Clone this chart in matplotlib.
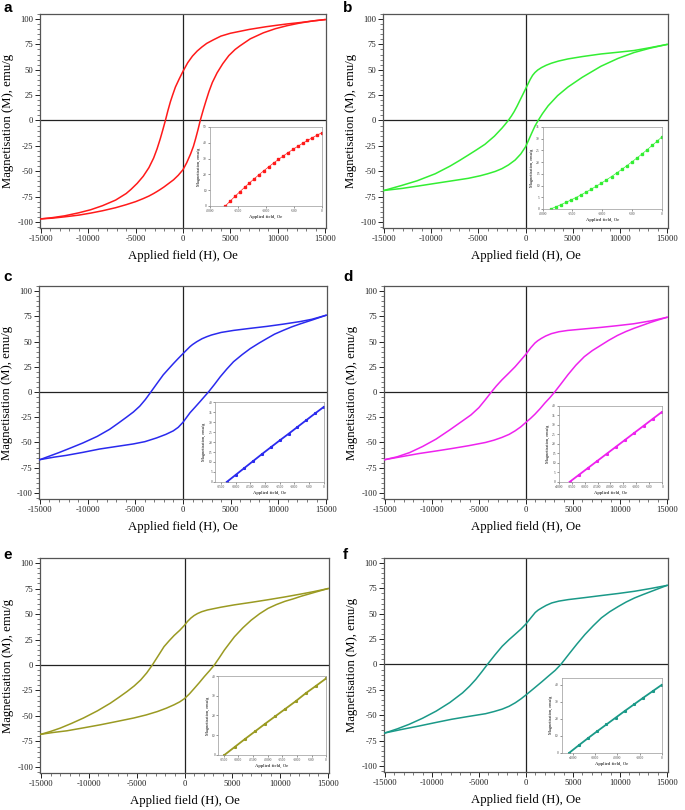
import math
import matplotlib
matplotlib.use("Agg")
import matplotlib.pyplot as plt
from matplotlib.ticker import MultipleLocator

plt.rcParams['font.family'] = ['Liberation Serif', 'DejaVu Serif']
plt.rcParams['axes.unicode_minus'] = False

# ---------------- data ----------------
# panel a
a_desc_H = [15000, 13800, 12300, 11000, 10000, 8800, 7000, 5000, 4000, 3200, 2500, 2000, 1500, 1000, 500, 0,
            -400, -800, -1100, -1330, -1600, -1860, -2140, -2400, -2740, -3100, -3600, -4200, -4840, -5500,
            -6000, -7120, -8500, -9750, -11000, -12500, -13800, -15000]
a_desc_M = [99.5, 98.2, 96.5, 95.2, 94, 92.5, 89.8, 86, 83.2, 79.5, 76, 72.5, 68.5, 63.5, 57, 48.5,
            41, 33, 25, 18.5, 9.5, 0, -9.5, -18, -28, -37, -46.5, -55, -62, -68,
            -72, -78.5, -84, -88, -91, -94, -95.8, -97]
a_asc_H = [-15000, -13800, -12500, -11000, -9750, -8500, -7120, -6000, -5000, -4200, -3600, -3100, -2740, -2400,
           -2000, -1500, -1000, -500, 0, 400, 800, 1100, 1330, 1600, 1820, 2140, 2400, 2740, 3100, 3600, 4200,
           4840, 5500, 6000, 7100, 8500, 9750, 11000, 12300, 13800, 15000]
a_asc_M = [-97, -96.3, -95, -93.3, -91.3, -89, -86, -83, -80, -77, -74.5, -72, -70, -68,
           -65.5, -62, -58.5, -54, -48.5, -41.5, -33, -25.5, -18, -8.5, 0, 10.5, 18.5, 28.5, 37.5, 47, 56,
           64, 70, 73.5, 80.5, 86.5, 90.5, 93.5, 96, 98.3, 99.5]
a_ins_H = [-1720, -1634, -1548, -1462, -1376, -1290, -1204, -1118, -1032, -946, -860, -774, -688, -602, -516, -430, -344, -258, -172, -86, 0]
a_ins_M = [0, 3.08, 6.08, 9.00, 11.84, 14.60, 17.28, 19.88, 22.40, 24.84, 27.20, 29.48, 31.68, 33.80, 35.84, 37.80, 39.68, 41.48, 43.21, 44.85, 46.41]

# panel b
b_desc_H = [15000, 13200, 11500, 9800, 8000, 6000, 4500, 3500, 2750, 2200, 1700, 1300, 1000, 750, 500, 0,
            -300, -600, -900, -1200, -1500, -1830, -2200, -2500, -3300, -4300, -5200, -6050, -7000, -8000,
            -9560, -11500, -13100, -15000]
b_desc_M = [75, 71.8, 69, 67.3, 65.6, 63, 60.7, 58.6, 56.5, 54.5, 52.2, 49.8, 47.3, 44.5, 40.5, 31,
            25.3, 19.7, 14, 8.8, 4.3, 0, -4.3, -7.6, -15.5, -23.5, -29, -34, -39.5, -45,
            -52.5, -59.5, -64, -69]
b_asc_H = [-15000, -13100, -11300, -9560, -7800, -6050, -4800, -4000, -3200, -2500, -1800, -1100, -500, 0,
           300, 630, 1000, 1340, 1800, 2400, 3400, 4500, 6000, 8000, 9800, 11500, 13200, 15000]
b_asc_M = [-69, -67, -64.5, -62, -59.5, -57, -54.5, -52.5, -50.2, -47.5, -43.8, -39, -33, -26,
           -20, -13, -5.5, 0, 6.8, 14.5, 24.5, 33, 42.5, 53.5, 61.2, 67, 71.3, 75]
b_ins_H = [-1866, -1781, -1696, -1611, -1526, -1441, -1356, -1271, -1186, -1101, -1016, -931, -846, -761, -676, -591, -506, -421, -336, -251, -166, -81, 0]
b_ins_M = [0, 0.88, 1.81, 2.79, 3.81, 4.89, 6.02, 7.20, 8.43, 9.71, 11.04, 12.42, 13.85, 15.33, 16.86, 18.44, 20.07, 21.75, 23.48, 25.27, 27.10, 28.98, 30.82]

# panel c
c_desc_H = [15000, 13500, 12300, 10500, 8800, 7000, 5300, 4000, 3000, 2500, 2000, 1440, 1000, 740, 400, 0,
            -500, -1020, -1500, -2070, -2700, -3370, -3950, -4530, -5200, -5930, -6800, -7700, -9000,
            -10500, -11800, -13000, -14000, -15000]
c_desc_M = [76, 72, 69.8, 67.2, 65, 63, 61, 59, 56.5, 54.8, 52.8, 49.8, 47, 45, 41.8, 38,
            33.2, 28, 23, 17, 8.8, 0, -7.5, -14, -19.8, -25, -31, -37, -44,
            -50.5, -55.5, -60, -63.5, -67]
c_asc_H = [-15000, -13500, -12250, -10500, -8750, -7000, -5230, -4000, -2770, -1800, -1020, -500, 0, 350, 740,
           1250, 1790, 2250, 2670, 3300, 3900, 4600, 5300, 6200, 7050, 8000, 8800, 9600, 10500, 11400, 12300,
           13600, 15000]
c_asc_M = [-67, -64.5, -62.8, -59.8, -56.5, -54, -51.5, -49.2, -45.5, -42, -38.5, -35, -30, -25.5, -20.5,
           -15.2, -9.5, -4.5, 0, 7.5, 15, 22.8, 30, 37, 43, 48.6, 53, 57.3, 61, 64.5, 67.5,
           71.5, 76]
c_ins_H = [-3300, -3000, -2700, -2400, -2100, -1800, -1500, -1200, -900, -600, -300, 0]
c_ins_M = [0, 3.5, 7.0, 10.5, 14.0, 17.4, 20.8, 24.1, 27.5, 30.9, 34.3, 37.6]

# panel d
d_desc_H = [15000, 13300, 11460, 9700, 7960, 6200, 4450, 3500, 2700, 2100, 1650, 1250, 950, 500, 0,
            -600, -1160, -1850, -2560, -3150, -3680, -4350, -5010, -5850, -6760, -8100, -9570, -11000,
            -12370, -13700, -15000]
d_desc_M = [74, 70.5, 67.6, 65.7, 64, 62.5, 61, 59.7, 57.8, 55.5, 53.2, 50.8, 48.5, 43.8, 37.5,
            31, 25, 18.5, 12, 6.0, 0, -8.0, -15.5, -22.7, -28.7, -37.5, -46.7, -54,
            -60, -64.2, -67]
d_asc_H = [-15000, -13200, -11400, -9600, -7890, -6100, -4310, -3400, -2560, -1800, -1160, -550, 0, 500, 950,
           1500, 2000, 2550, 3050, 3700, 4450, 5300, 6200, 7050, 7960, 8800, 9720, 10600, 11460, 12300,
           13200, 14100, 15000]
d_asc_M = [-67, -64, -61, -58.5, -56, -53.2, -50, -47.7, -45, -42, -38.5, -34.5, -30, -26, -22,
           -16.5, -11, -5.5, 0, 7.8, 17, 26.5, 35, 41, 46.3, 51.2, 56, 59.8, 63, 65.8,
           68.8, 71.5, 74]
d_ins_H = [-3580, -3222, -2864, -2506, -2148, -1790, -1432, -1074, -716, -358, 0]
d_ins_M = [0, 3.7, 7.4, 11.1, 14.8, 18.5, 22.2, 25.9, 29.6, 33.3, 37.0]

# panel e
e_desc_H = [15000, 13500, 12200, 10500, 8700, 7000, 5200, 3800, 2400, 1800, 1360, 1000, 660, 300, 0,
            -500, -1080, -1600, -2140, -2750, -3360, -3950, -4580, -5250, -6000, -6850, -7750, -9100,
            -10550, -11800, -13000, -14000, -15000]
e_desc_M = [75, 72, 69.7, 66.8, 64, 61.5, 59, 56.7, 54, 52.3, 50.5, 48.5, 46, 42.6, 39,
            34, 29, 23.8, 18, 9.0, 0, -7.8, -14.7, -20.5, -26, -31.7, -37.5, -45,
            -52, -57.3, -62, -65.2, -68]
e_asc_H = [-15000, -13700, -12300, -10500, -8800, -7000, -5290, -4000, -2840, -1900, -1080, -500, 0, 500, 1020,
           1550, 2070, 2600, 3120, 3650, 4170, 4700, 5220, 6100, 6970, 7850, 8720, 9600, 10500, 11400,
           12200, 13600, 15000]
e_asc_M = [-68, -66.2, -64.6, -61.6, -58.7, -55.3, -52, -49, -45.7, -42.4, -39, -36.2, -33, -28.5, -23,
           -17.3, -11.4, -5.8, 0, 7.3, 14.7, 21.3, 27.7, 36.5, 44, 50.3, 55.5, 59.3, 62.5, 65,
           67.5, 71.3, 75]
e_ins_H = [-3480, -3132, -2784, -2436, -2088, -1740, -1392, -1044, -696, -348, 0]
e_ins_M = [0, 4.0, 8.0, 11.9, 15.8, 19.6, 23.4, 27.2, 31.3, 35.0, 38.8]

# panel f
f_desc_H = [15000, 13300, 11540, 9800, 8020, 6300, 4500, 3500, 2740, 2150, 1690, 1300, 985, 500, 0,
            -550, -1130, -1800, -2530, -3300, -4110, -4700, -5340, -6000, -6750, -8100, -9560, -11000,
            -12430, -13700, -15000]
f_desc_M = [78, 75, 72.2, 70, 68, 66, 64, 62.5, 60.7, 58.3, 55.9, 53.7, 51.3, 45.8, 40,
            34.8, 30, 24.5, 18, 9.5, 0, -7.2, -14.7, -21.4, -28, -37.5, -46, -53,
            -59, -63.5, -67.5]
f_asc_H = [-15000, -13200, -11400, -9600, -7900, -6100, -4290, -3400, -2530, -1800, -1130, -550, 0, 850, 1690,
           2400, 3100, 3700, 4500, 5400, 6260, 7150, 8020, 8900, 9780, 10650, 11540, 12400, 13300, 14150, 15000]
f_asc_M = [-67.5, -64, -60.7, -57.2, -54, -51.2, -48.5, -46.4, -44, -41.2, -37.7, -34, -30, -23.5, -17,
           -11.3, -5.8, 0, 9.5, 20, 29.5, 38.2, 46, 52, 57, 61.6, 65.6, 68.8, 72, 75, 78]
f_ins_H = [-4150, -3735, -3320, -2905, -2490, -2075, -1660, -1245, -830, -415, 0]
f_ins_M = [0, 4.3, 8.5, 12.6, 16.6, 20.6, 24.6, 28.5, 32.4, 36.2, 40.0]

x_ticks = [-15000, -10000, -5000, 0, 5000, 10000, 15000]
y_ticks = [-100, -75, -50, -25, 0, 25, 50, 75, 100]
panel_letters = ['a', 'b', 'c', 'd', 'e', 'f']
x_label = 'Applied field (H), Oe'
y_label = 'Magnetisation (M), emu/g'
ins_x_label = 'Applied field, Oe'
ins_y_label = 'Magnetisation, emu/g'

# ---------------- layout ----------------
W, Hh = 685, 810
fig = plt.figure(figsize=(W / 100, Hh / 100), dpi=100)

def px_axes(left, top, width, height):
    return fig.add_axes([left / W, 1 - (top + height) / Hh, width / W, height / Hh])

def ticks_in(lim, step):
    start = int(math.ceil(lim[0] / step)) * step
    return list(range(start, int(math.floor(lim[1] / step)) * step + 1, step))

panels = [
    dict(color='#ff1a1a', desc=(a_desc_H, a_desc_M), asc=(a_asc_H, a_asc_M), ins=(a_ins_H, a_ins_M),
         box=(40, 14, 286, 214), lpos=(3, 12), irect=[0.593, 0.103, 0.393, 0.369],
         ixlim=(-2000, 0), iylim=(0, 50), ixstep=500, iystep=10, dense=False),
    dict(color='#33ee33', desc=(b_desc_H, b_desc_M), asc=(b_asc_H, b_asc_M), ins=(b_ins_H, b_ins_M),
         box=(383, 14, 285, 214), lpos=(343, 12), irect=[0.56, 0.089, 0.419, 0.383],
         ixlim=(-2000, 0), iylim=(0, 35), ixstep=500, iystep=5, dense=False),
    dict(color='#2a2aee', desc=(c_desc_H, c_desc_M), asc=(c_asc_H, c_asc_M), ins=(c_ins_H, c_ins_M),
         box=(39, 286, 288, 213), lpos=(3, 281), irect=[0.611, 0.08, 0.378, 0.375],
         ixlim=(-3700, 0), iylim=(0, 40), ixstep=500, iystep=5, dense=True),
    dict(color='#ee22ee', desc=(d_desc_H, d_desc_M), asc=(d_asc_H, d_asc_M), ins=(d_ins_H, d_ins_M),
         box=(384, 286, 284, 213), lpos=(343, 281), irect=[0.615, 0.08, 0.365, 0.357],
         ixlim=(-4000, 0), iylim=(0, 40), ixstep=500, iystep=5, dense=True),
    dict(color='#9a9a22', desc=(e_desc_H, e_desc_M), asc=(e_asc_H, e_asc_M), ins=(e_ins_H, e_ins_M),
         box=(40, 558, 289, 215), lpos=(3, 559), irect=[0.616, 0.084, 0.374, 0.367],
         ixlim=(-3700, 0), iylim=(0, 40), ixstep=500, iystep=10, dense=True),
    dict(color='#1a9988', desc=(f_desc_H, f_desc_M), asc=(f_asc_H, f_asc_M), ins=(f_ins_H, f_ins_M),
         box=(384, 558, 284, 214), lpos=(343, 559), irect=[0.625, 0.09, 0.354, 0.35],
         ixlim=(-4500, 0), iylim=(0, 44), ixstep=1000, iystep=10, dense=True),
]

spine_col = '#555555'
for letter, p in zip(panel_letters, panels):
    ax = px_axes(*p['box'])
    ax.plot(p['desc'][0], p['desc'][1], color=p['color'], lw=1.1, zorder=3)
    ax.plot(p['asc'][0], p['asc'][1], color=p['color'], lw=1.1, zorder=3)
    ax.axhline(0, color='#222222', lw=0.9, zorder=2)
    ax.axvline(0, color='#222222', lw=0.9, zorder=2)
    ax.set_xlim(-15100, 15100)
    ax.set_ylim(-106, 105)
    ax.set_xticks(x_ticks)
    ax.set_yticks(y_ticks)
    ax.xaxis.set_minor_locator(MultipleLocator(1000))
    ax.yaxis.set_minor_locator(MultipleLocator(5))
    ax.tick_params(which='major', direction='out', length=3.5, width=0.7, labelsize=6.2, pad=1.5, colors='#222222')
    ax.tick_params(which='minor', direction='out', length=2, width=0.5, colors='#444444')
    for s in ax.spines.values():
        s.set_color(spine_col)
        s.set_linewidth(0.9)
    ax.set_xlabel(x_label, fontsize=9.2, labelpad=5)
    ax.set_ylabel(y_label, fontsize=9.2, labelpad=2)
    fig.text(p['lpos'][0] / W, 1 - p['lpos'][1] / Hh, letter, ha='left', va='baseline',
             fontsize=11, fontweight='bold', family=['Liberation Sans', 'DejaVu Sans'])

    ia = ax.inset_axes(p['irect'])
    ia.set_facecolor('white')
    if p['dense']:
        ia.plot(p['ins'][0], p['ins'][1], color=p['color'], lw=1.3, marker='s', ms=1.2)
    else:
        ia.plot(p['ins'][0], p['ins'][1], color=p['color'], lw=0.5, marker='s', ms=1.5)
    ia.set_xticks(ticks_in(p['ixlim'], p['ixstep']))
    ia.set_yticks(ticks_in(p['iylim'], p['iystep']))
    ia.set_xlim(*p['ixlim'])
    ia.set_ylim(*p['iylim'])
    ia.tick_params(which='major', direction='out', length=1.2, width=0.4, labelsize=2.6, pad=0.8, colors='#444444')
    for s in ia.spines.values():
        s.set_color('#999999')
        s.set_linewidth(0.5)
    ia.set_xlabel(ins_x_label, fontsize=3.4, labelpad=1.5)
    ia.set_ylabel(ins_y_label, fontsize=3.2, labelpad=1.5)

fig.savefig('out.png', dpi=100)
